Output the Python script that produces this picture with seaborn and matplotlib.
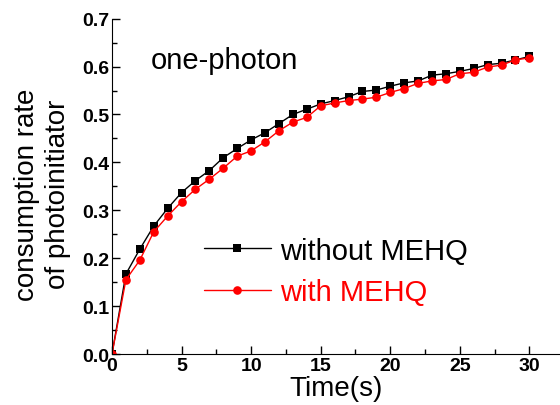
import numpy as np
import pandas as pd
import matplotlib
matplotlib.use("Agg")
import matplotlib.pyplot as plt
import seaborn as sns
from matplotlib.ticker import MultipleLocator, FormatStrFormatter

# data
time_s = list(range(0, 31))
without_mehq = [0.000, 0.167, 0.219, 0.267, 0.304, 0.337, 0.362, 0.383, 0.410, 0.429,
                0.447, 0.462, 0.481, 0.500, 0.511, 0.522, 0.529, 0.537, 0.548, 0.551,
                0.559, 0.566, 0.570, 0.582, 0.585, 0.590, 0.596, 0.604, 0.607, 0.614,
                0.621]
with_mehq = [0.000, 0.155, 0.196, 0.255, 0.288, 0.318, 0.344, 0.365, 0.388, 0.413,
             0.424, 0.443, 0.466, 0.484, 0.494, 0.518, 0.524, 0.529, 0.532, 0.536,
             0.546, 0.554, 0.565, 0.570, 0.573, 0.585, 0.588, 0.599, 0.603, 0.614,
             0.618]
series_names = ["without MEHQ", "with MEHQ"]
series_colors = ["black", "red"]

sns.set_style("ticks")
plt.rcParams["font.family"] = ["Liberation Sans", "DejaVu Sans"]
plt.rcParams["font.weight"] = "bold"   # tick labels bold, others reset below
for key in ["text.color", "axes.labelcolor", "xtick.color", "ytick.color", "axes.edgecolor"]:
    plt.rcParams[key] = "black"
plt.rcParams["xtick.direction"] = "in"
plt.rcParams["ytick.direction"] = "in"

df = pd.DataFrame({
    "time": time_s * 2,
    "rate": without_mehq + with_mehq,
    "sample": [series_names[0]] * len(time_s) + [series_names[1]] * len(time_s),
})

fig = plt.figure(figsize=(5.6, 4.06), dpi=100)
ax = fig.add_axes([0.2, 0.1256, 0.8, 0.826])

sns.lineplot(data=df, x="time", y="rate", hue="sample", style="sample",
             palette=series_colors, markers=["s", "o"], dashes=False,
             linewidth=1.0, markersize=6.2, markeredgewidth=0, ax=ax)

ax.set_xlim(0, 32.2)
ax.set_ylim(0, 0.7)
ax.xaxis.set_major_locator(MultipleLocator(5))
ax.xaxis.set_minor_locator(MultipleLocator(2.5))
ax.yaxis.set_major_locator(MultipleLocator(0.1))
ax.yaxis.set_minor_locator(MultipleLocator(0.05))
ax.yaxis.set_major_formatter(FormatStrFormatter("%.1f"))
ax.tick_params(which="major", length=6, width=1, pad=2, labelsize=14)
ax.tick_params(which="minor", length=3.5, width=1)
sns.despine(ax=ax)

ax.set_xlabel("Time(s)", fontsize=20, fontweight="normal", labelpad=1)
ax.set_ylabel("consumption rate\nof photoinitiator", fontsize=20,
              fontweight="normal", linespacing=1.25)
ax.yaxis.set_label_coords(-0.092, 0.478)
ax.text(2.8, 0.614, "one-photon", fontsize=21, fontweight="normal",
        va="center", ha="left")

leg = ax.legend(loc="upper left", bbox_to_anchor=(0.205, 0.35), frameon=False,
                prop={"size": 21, "weight": "normal"}, handlelength=2.3,
                handletextpad=0.3, labelspacing=0.45, borderpad=0,
                borderaxespad=0)
for text, color in zip(leg.get_texts(), series_colors):
    text.set_color(color)

fig.savefig("out.png", dpi=100)
